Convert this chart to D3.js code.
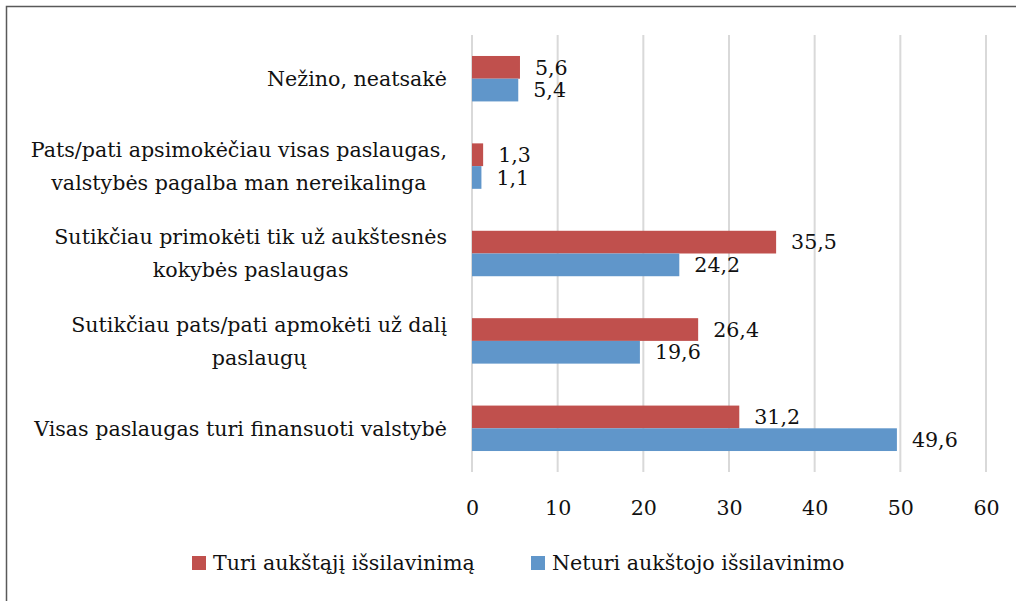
<!DOCTYPE html>
<html>
  <head>
    <meta charset="utf-8">
    <title>Paslaugų finansavimas</title>
    <style>
    body { margin: 0; background: #fff; }
    text { font-family: "DejaVu Serif", "Liberation Serif", "Times New Roman", serif; fill: #111; }
    .grid line { stroke: #d9d9d9; stroke-width: 2; }
    .axis--x path, .axis--x line { display: none; }
    </style>
  </head>
  <body>
    <svg width="1016" height="601"></svg>
    <script src="https://d3js.org/d3.v7.min.js"></script>
    <script>

      // categories from top to bottom, each split into its wrapped lines
      var categories = [
        ["Nežino, neatsakė"],
        ["Pats/pati apsimokėčiau visas paslaugas,", "valstybės pagalba man nereikalinga"],
        ["Sutikčiau primokėti tik už aukštesnės", "kokybės paslaugas"],
        ["Sutikčiau pats/pati apmokėti už dalį", "paslaugų"],
        ["Visas paslaugas turi finansuoti valstybė"]
      ];
      var seriesNames = ["Turi aukštąjį išsilavinimą", "Neturi aukštojo išsilavinimo"];
      var withHigher = [5.6, 1.3, 35.5, 26.4, 31.2];
      var withoutHigher = [5.4, 1.1, 24.2, 19.6, 49.6];
      var ticks = [0, 10, 20, 30, 40, 50, 60];
      var colors = ["#c0504d", "#6096ca"];

      var fs = "20.6px";

      var svg = d3.select("svg"),
          margin = {top: 35, right: 30, bottom: 129, left: 472},
          width = +svg.attr("width") - margin.left - margin.right,
          height = +svg.attr("height") - margin.top - margin.bottom;

      // outer frame (right and bottom edges fall outside the picture)
      svg.append("rect")
          .attr("x", 6.5).attr("y", 6.5)
          .attr("width", 1030).attr("height", 620)
          .attr("fill", "none")
          .attr("stroke", "#595959")
          .attr("stroke-width", 1.5);

      var x = d3.scaleLinear().domain([0, 60]).range([0, 514]),
          y = d3.scaleBand().domain(d3.range(categories.length)).range([0, height]).paddingInner(0.48).paddingOuter(0.24),
          y1 = d3.scaleBand().domain([0, 1]).range([0, y.bandwidth()]);

      var g = svg.append("g")
          .attr("transform", "translate(" + margin.left + "," + margin.top + ")");

      g.append("g")
          .attr("class", "grid")
        .selectAll("line")
        .data(ticks)
        .enter().append("line")
          .attr("x1", function(d) { return x(d); })
          .attr("x2", function(d) { return x(d); })
          .attr("y1", 0)
          .attr("y2", height);

      g.append("g")
          .attr("class", "axis axis--x")
          .attr("transform", "translate(0," + height + ")")
          .call(d3.axisBottom(x).tickValues(ticks).tickSize(0).tickPadding(28).tickFormat(d3.format("d")))
          .attr("font-family", null)
          .attr("font-size", null)
          .selectAll("text")
          .style("font-size", fs);

      var series = [withHigher, withoutHigher];
      var fmt = function(v) { return d3.format(".1f")(v).replace(".", ","); };

      series.forEach(function(vals, s) {
        var sg = g.append("g");
        sg.selectAll("rect")
          .data(vals)
          .enter().append("rect")
            .attr("x", 0)
            .attr("y", function(d, i) { return y(i) + y1(s); })
            .attr("width", function(d) { return x(d); })
            .attr("height", y1.bandwidth())
            .attr("fill", colors[s]);
        sg.selectAll("text")
          .data(vals)
          .enter().append("text")
            .attr("x", function(d) { return x(d) + 15; })
            .attr("y", function(d, i) { return y(i) + y1(s) + y1.bandwidth() / 2; })
            .attr("dy", "0.35em")
            .style("font-size", fs)
            .text(fmt);
      });

      // category labels: lines centred on each other, block right-aligned
      var labelRight = 447, lineH = 33;
      categories.forEach(function(lines, i) {
        var cy = y(i) + y.bandwidth() / 2;
        var lg = g.append("g").attr("transform", "translate(" + (-margin.left) + ",0)");
        var texts = lg.selectAll("text")
          .data(lines)
          .enter().append("text")
            .attr("text-anchor", "middle")
            .attr("y", function(d, j) { return cy + (j - (lines.length - 1) / 2) * lineH; })
            .attr("dy", "0.35em")
            .style("font-size", fs)
            .text(function(d) { return d; });
        var maxW = d3.max(texts.nodes(), function(n) { return n.getComputedTextLength(); });
        texts.attr("x", labelRight - maxW / 2);
      });

      // legend
      var legend = svg.append("g").attr("transform", "translate(0,563)");
      var lx = [192, 531];
      seriesNames.forEach(function(name, s) {
        legend.append("rect")
            .attr("x", lx[s]).attr("y", -7)
            .attr("width", 14).attr("height", 14)
            .attr("fill", colors[s]);
        legend.append("text")
            .attr("x", lx[s] + 21)
            .attr("dy", "0.35em")
            .style("font-size", fs)
            .text(name);
      });
    </script>
  </body>
</html>
